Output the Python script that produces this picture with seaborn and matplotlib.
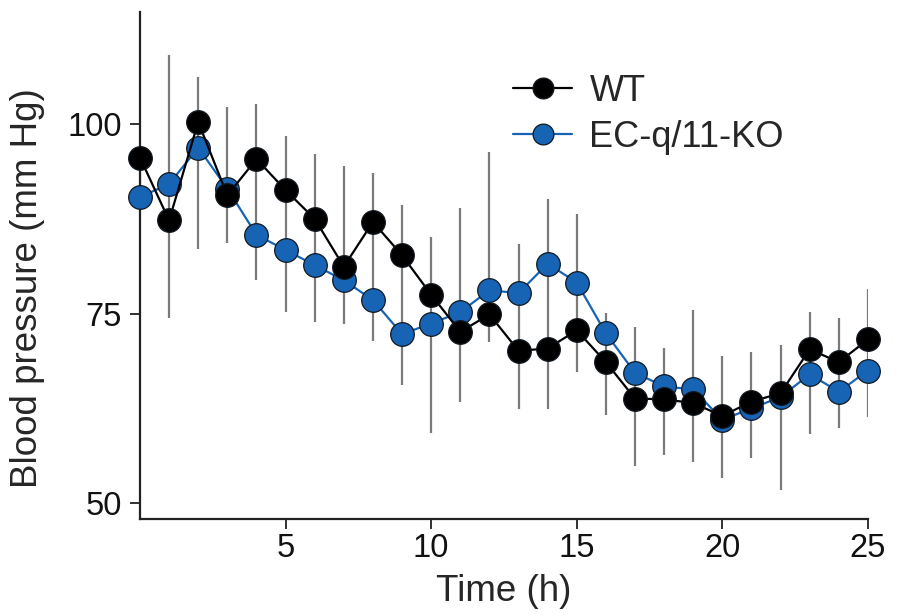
import numpy as np
import matplotlib
matplotlib.use("Agg")
import matplotlib.pyplot as plt
import pandas as pd
import seaborn as sns

hours = list(range(26))
wt_bp = [95.6, 87.3, 100.3, 90.6, 95.4, 91.3, 87.5, 81.2, 87.1, 82.7, 77.5, 72.6, 74.9,
         70.1, 70.4, 72.8, 68.6, 63.8, 63.7, 63.2, 61.5, 63.4, 64.5, 70.3, 68.6, 71.6]
ko_bp = [90.4, 92.1, 96.9, 91.5, 85.4, 83.4, 81.4, 79.4, 76.8, 72.3, 73.7, 75.2, 78.1,
         77.7, 81.6, 79.1, 72.4, 67.2, 65.4, 65.0, 61.0, 62.5, 64.0, 67.0, 64.7, 67.5]
# extent of the grey error bars at each hour (both groups together)
bar_low = [90.4, 74.4, 83.5, 84.3, 79.4, 75.2, 73.9, 73.7, 71.4, 65.6, 59.2, 63.4, 71.3,
           62.4, 62.4, 67.3, 61.6, 54.9, 56.3, 55.4, 53.3, 55.9, 51.7, 59.1, 59.9, 61.4]
bar_high = [95.6, 109.1, 106.2, 102.2, 102.7, 98.5, 96.0, 94.5, 93.6, 89.4, 85.1, 89.0, 96.3,
            84.2, 90.1, 88.2, 75.1, 73.3, 70.5, 75.5, 69.4, 70.0, 70.8, 75.2, 74.4, 78.2]

groups = ["WT", "EC-q/11-KO"]
colors = {"WT": "#000000", "EC-q/11-KO": "#1764b4"}

df = pd.DataFrame({
    "hour": hours * 2,
    "bp": wt_bp + ko_bp,
    "group": ["WT"] * len(hours) + ["EC-q/11-KO"] * len(hours),
})

sns.set_style("ticks")
plt.rcParams["font.family"] = ["Liberation Sans", "DejaVu Sans"]

fig = plt.figure(figsize=(9.06, 6.15), dpi=100)
ax = fig.add_axes([0.1545, 0.156, 0.8035, 0.8245])

ax.vlines(hours, bar_low, bar_high, color="#7a7a7a", lw=1.6, zorder=1)

for g in ["EC-q/11-KO", "WT"]:
    sub = df[df["group"] == g]
    sns.lineplot(data=sub, x="hour", y="bp", ax=ax, color=colors[g], lw=1.6,
                 marker="o", markersize=17, markerfacecolor=colors[g],
                 markeredgecolor="#101820", markeredgewidth=0.9, label=g,
                 zorder=3, clip_on=False)

ax.set_xlim(0, 25)
ax.set_ylim(47.9, 114.8)
ax.set_xticks([5, 10, 15, 20, 25])
ax.set_yticks([50, 75, 100])
ax.tick_params(axis="both", direction="out", length=7, width=1.3, labelsize=23.5,
               color="#222222", labelcolor="#111111", pad=3)
ax.tick_params(axis="y", pad=6)
for s in ["left", "bottom"]:
    ax.spines[s].set_linewidth(1.6)
    ax.spines[s].set_color("#222222")
sns.despine(ax=ax)

ax.set_xlabel("Time (h)", fontsize=26.5, labelpad=7)
ax.set_ylabel("Blood pressure (mm Hg)", fontsize=26.5)
ax.yaxis.set_label_coords(-0.131, 0.455)

handles, labels = ax.get_legend_handles_labels()
order = [labels.index(g) for g in groups]
ax.legend([handles[i] for i in order], [labels[i] for i in order],
          loc="upper left", bbox_to_anchor=(0.468, 0.942), frameon=False,
          fontsize=26, handlelength=1.64, handletextpad=0.47, labelspacing=0.3,
          markerscale=0.88)

fig.savefig("out.png", dpi=100)
